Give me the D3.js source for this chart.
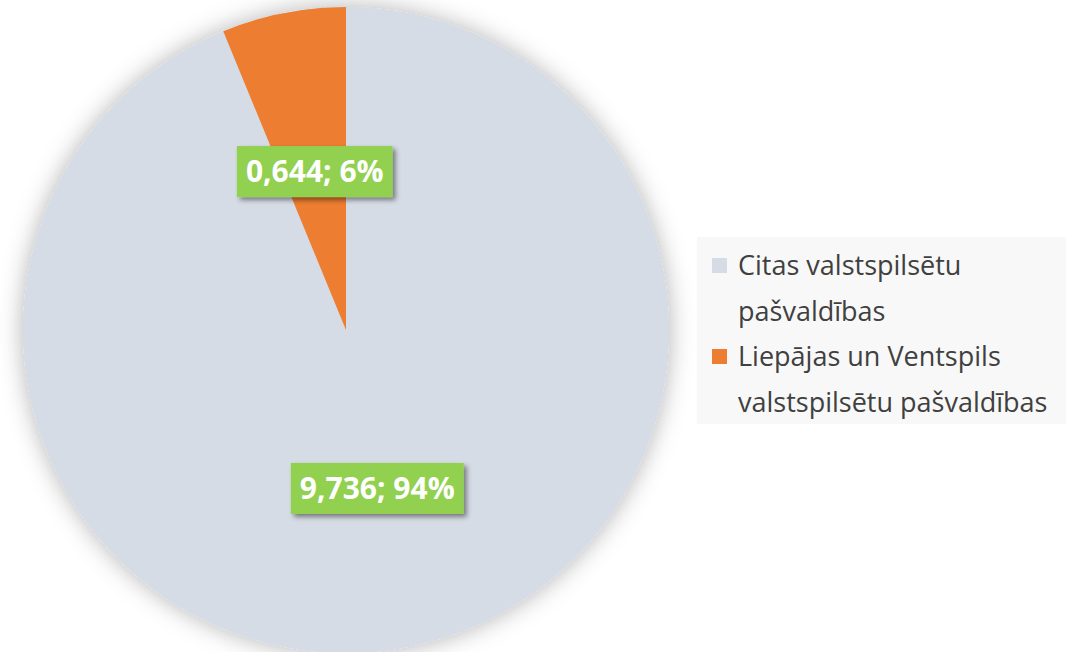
<!DOCTYPE html>
<html lang="lv">
<head>
    <meta charset="UTF-8">
    <title>Pašvaldību sadalījums</title>
    <script src="https://d3js.org/d3.v7.min.js"></script>
    <style>
        body { margin: 0; background: #ffffff; }
        svg { display: block; }
    </style>
</head>
<body>
    <script>
        var w = 1079;
        var h = 652;

        // data
        var categories = ["Citas valstspilsētu pašvaldības", "Liepājas un Ventspils valstspilsētu pašvaldības"];
        var values = [9.736, 0.644];
        var colors = ["#d6dce5", "#ed7d31"];
        var legendLines = [["Citas valstspilsētu", "pašvaldības"], ["Liepājas un Ventspils", "valstspilsētu pašvaldības"]];

        var cx = 346, cy = 330, r = 323;

        var svg = d3.select("body").append("svg")
            .attr("width", w)
            .attr("height", h);

        var defs = svg.append("defs");
        // soft glow round the pie
        var glow = defs.append("filter").attr("id", "glow")
            .attr("x", "-20%").attr("y", "-20%").attr("width", "140%").attr("height", "140%");
        glow.append("feDropShadow")
            .attr("dx", 0).attr("dy", 0)
            .attr("stdDeviation", 12)
            .attr("flood-color", "#000").attr("flood-opacity", 0.3);

        // shadow for the label boxes
        var boxShadow = defs.append("filter").attr("id", "boxShadow")
            .attr("x", "-20%").attr("y", "-30%").attr("width", "150%").attr("height", "170%");
        boxShadow.append("feDropShadow")
            .attr("dx", 3).attr("dy", 3)
            .attr("stdDeviation", 2.5)
            .attr("flood-color", "#000").attr("flood-opacity", 0.45);

        var pie = d3.pie().sort(null).value(function(d) { return d; });
        var arcs = pie(values);

        var arc = d3.arc().innerRadius(0).outerRadius(r);

        var g = svg.append("g").attr("transform", "translate(" + cx + "," + cy + ")");

        g.append("circle")
            .attr("r", r)
            .attr("fill", colors[0])
            .attr("filter", "url(#glow)");

        g.selectAll("path.slice")
            .data(arcs)
            .enter()
            .append("path")
            .attr("class", "slice")
            .attr("d", arc)
            .attr("fill", function(d, i) { return colors[i]; });

        var total = d3.sum(values);
        var fmt = d3.formatLocale({ decimal: ",", thousands: " ", grouping: [3], currency: ["", "€"] }).format(".3f");

        // data labels at the arc centroids
        var labels = g.selectAll("g.label")
            .data(arcs)
            .enter()
            .append("g")
            .attr("class", "label")
            .attr("transform", function(d) { return "translate(" + arc.centroid(d) + ")"; });

        labels.append("rect")
            .attr("fill", "#92d050")
            .attr("filter", "url(#boxShadow)");

        labels.append("text")
            .attr("text-anchor", "middle")
            .attr("dy", "0.36em")
            .attr("fill", "#ffffff")
            .attr("font-family", "'Open Sans', sans-serif")
            .attr("font-weight", "bold")
            .attr("font-size", 30)
            .text(function(d) {
                return fmt(d.data) + "; " + Math.round(d.data / total * 100) + "%";
            });

        labels.each(function() {
            var t = d3.select(this).select("text").node().getBBox();
            d3.select(this).select("rect")
                .attr("x", t.x - 9)
                .attr("y", -25.5)
                .attr("width", t.width + 18)
                .attr("height", 51);
        });

        // legend
        var legend = svg.append("g").attr("transform", "translate(697,237)");
        legend.append("rect")
            .attr("width", 369)
            .attr("height", 187)
            .attr("fill", "#f8f8f8");

        var lineH = 45.5;
        var items = legend.selectAll("g.item")
            .data(categories)
            .enter()
            .append("g")
            .attr("class", "item")
            .attr("transform", function(d, i) { return "translate(0," + (i * 2 * lineH) + ")"; });

        items.append("rect")
            .attr("x", 15)
            .attr("y", 21)
            .attr("width", 15)
            .attr("height", 15)
            .attr("fill", function(d, i) { return colors[i]; });

        items.each(function(d, i) {
            var t = d3.select(this).append("text")
                .attr("x", 41)
                .attr("y", 38)
                .attr("fill", "#404040")
                .attr("font-family", "'Open Sans', sans-serif")
                .attr("font-size", 27);
            t.selectAll("tspan")
                .data(legendLines[i])
                .enter()
                .append("tspan")
                .attr("x", 41)
                .attr("dy", function(l, j) { return j === 0 ? 0 : lineH; })
                .text(function(l) { return l; });
        });
    </script>
</body>
</html>
